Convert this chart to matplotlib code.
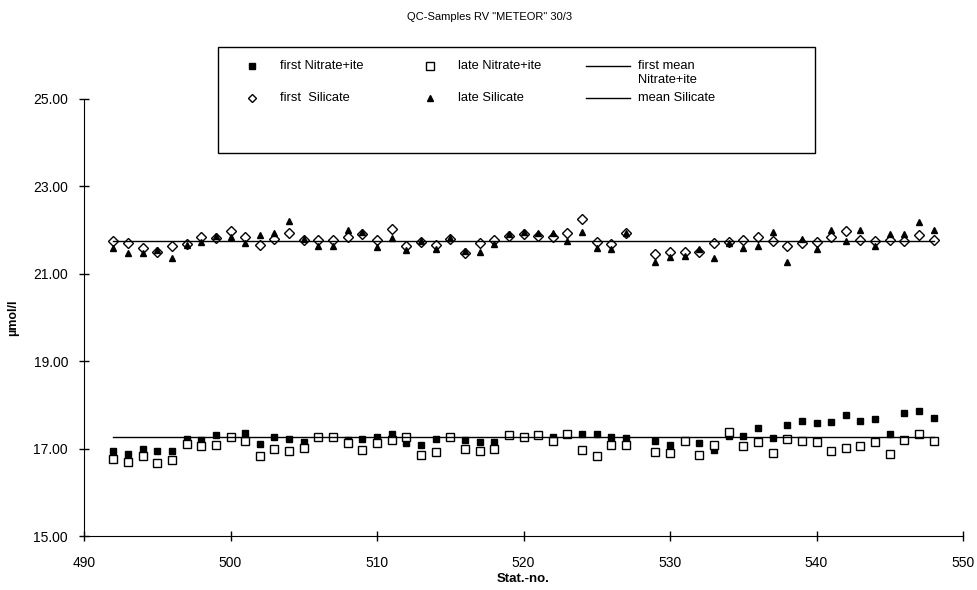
import matplotlib
matplotlib.use("Agg")
import matplotlib.pyplot as plt
from matplotlib.lines import Line2D
from matplotlib.patches import Rectangle

plt.rcParams['font.family'] = ['Liberation Sans', 'DejaVu Sans']

stations = [492, 493, 494, 495, 496, 497, 498, 499, 500, 501, 502, 503, 504, 505, 506, 507, 508, 509,
            510, 511, 512, 513, 514, 515, 516, 517, 518, 519, 520, 521, 522, 523, 524, 525, 526, 527,
            529, 530, 531, 532, 533, 534, 535, 536, 537, 538, 539, 540, 541, 542, 543, 544, 545, 546, 547, 548]

first_nitrate = [16.95, 16.88, 17.00, 16.95, 16.94, 17.23, 17.20, 17.30, 17.27, 17.36, 17.11, 17.27, 17.23, 17.15,
                 17.27, 17.27, 17.20, 17.22, 17.26, 17.34, 17.13, 17.09, 17.23, 17.27, 17.19, 17.14, 17.14, 17.30,
                 17.26, 17.30, 17.26, 17.34, 17.33, 17.34, 17.27, 17.25,
                 17.17, 17.09, 17.18, 17.13, 16.96, 17.28, 17.28, 17.48, 17.25, 17.53, 17.64, 17.58, 17.61, 17.76,
                 17.64, 17.68, 17.34, 17.81, 17.86, 17.71]
late_nitrate = [16.77, 16.69, 16.83, 16.68, 16.75, 17.11, 17.05, 17.08, 17.27, 17.18, 16.83, 16.99, 16.94, 17.01,
                17.27, 17.27, 17.13, 16.96, 17.13, 17.20, 17.26, 16.85, 16.92, 17.26, 17.00, 16.95, 17.00, 17.30,
                17.26, 17.30, 17.17, 17.34, 16.96, 16.84, 17.09, 17.08,
                16.92, 16.89, 17.18, 16.85, 17.09, 17.38, 17.07, 17.14, 16.90, 17.22, 17.18, 17.14, 16.95, 17.02,
                17.07, 17.14, 16.88, 17.19, 17.33, 17.17]
first_silicate = [21.74, 21.70, 21.60, 21.49, 21.63, 21.68, 21.85, 21.83, 21.97, 21.84, 21.66, 21.79, 21.94, 21.77,
                  21.78, 21.78, 21.84, 21.90, 21.77, 22.03, 21.63, 21.72, 21.66, 21.79, 21.47, 21.70, 21.77, 21.86,
                  21.91, 21.87, 21.84, 21.94, 22.26, 21.72, 21.68, 21.94,
                  21.45, 21.49, 21.50, 21.50, 21.70, 21.72, 21.77, 21.84, 21.74, 21.64, 21.70, 21.72, 21.84, 21.98,
                  21.78, 21.75, 21.78, 21.75, 21.88, 21.78]
late_silicate = [21.60, 21.47, 21.47, 21.54, 21.36, 21.66, 21.72, 21.87, 21.84, 21.71, 21.88, 21.94, 22.21, 21.79,
                 21.64, 21.64, 22.00, 21.95, 21.62, 21.82, 21.54, 21.75, 21.57, 21.82, 21.52, 21.51, 21.68, 21.92,
                 21.96, 21.94, 21.94, 21.75, 21.96, 21.60, 21.57, 21.93,
                 21.28, 21.38, 21.40, 21.57, 21.36, 21.71, 21.59, 21.63, 21.96, 21.28, 21.79, 21.57, 22.00, 21.75,
                 22.00, 21.64, 21.91, 21.90, 22.18, 22.00]

mean_nitrate = 17.27
mean_silicate = 21.75

xticks = [490, 500, 510, 520, 530, 540, 550]
yticks = [15, 17, 19, 21, 23, 25]

W, H = 977, 590
fig = plt.figure(figsize=(W / 100, H / 100), dpi=100)
left, right, top, bottom = 84, 963, 99, 536
ax = fig.add_axes([left / W, 1 - bottom / H, (right - left) / W, (bottom - top) / H])

ms = 5
h1, = ax.plot(stations, first_nitrate, 's', color='black', ms=ms, ls='none', label='first Nitrate+ite')
h2, = ax.plot(stations, late_nitrate, 's', mfc='white', mec='black', mew=1, ms=ms + 1, ls='none', label='late Nitrate+ite')
h4, = ax.plot(stations, first_silicate, 'D', mfc='white', mec='black', mew=1, ms=ms, ls='none', label='first  Silicate')
h5, = ax.plot(stations, late_silicate, '^', color='black', ms=ms, ls='none', label='late Silicate')
h3, = ax.plot([stations[0], stations[-1]], [mean_nitrate, mean_nitrate], '-', color='black', lw=1.0,
              label='first mean\nNitrate+ite')
h6, = ax.plot([stations[0], stations[-1]], [mean_silicate, mean_silicate], '-', color='black', lw=1.0,
              label='mean Silicate')

ax.set_xlim(490, 550)
ax.set_ylim(15, 25)
ax.set_xticks(xticks)
ax.set_yticks(yticks)
ax.set_yticklabels([f"{v:.2f}" for v in yticks])
ax.tick_params(direction='inout', length=7, width=1, labelsize=10)
ax.tick_params(axis='y', pad=8)
ax.tick_params(axis='x', pad=11)
ax.spines['top'].set_visible(False)
ax.spines['right'].set_visible(False)
ax.set_xlabel('Stat.-no.', fontsize=9.5, fontweight='bold', labelpad=2)
ax.set_ylabel('µmol/l', fontsize=9, fontweight='bold', labelpad=10)

fig.text(490 / W, 1 - 17 / H, 'QC-Samples RV "METEOR" 30/3', ha='center', va='center', fontsize=8)

# legend drawn in figure pixel coordinates
def fx(x):
    return x / W

def fy(y):
    return 1 - y / H

fig.add_artist(Rectangle((fx(218), fy(153)), fx(815) - fx(218), fy(47) - fy(153),
                         transform=fig.transFigure, fill=False, edgecolor='black', lw=1.0))
row1, row2 = 66, 98
entries = [
    (h1, 252, row1, 280), (h4, 252, row2, 280),
    (h2, 430, row1, 458), (h5, 430, row2, 458),
]
for h, mx, my, tx in entries:
    fig.add_artist(Line2D([fx(mx)], [fy(my)], transform=fig.transFigure, ls='none',
                          marker=h.get_marker(), ms=h.get_markersize() - 0.5,
                          mfc=h.get_markerfacecolor(), mec=h.get_markeredgecolor(),
                          mew=h.get_markeredgewidth()))
    fig.text(fx(tx), fy(my), h.get_label(), ha='left', va='center', fontsize=9.3)
for h, my in [(h3, row1), (h6, row2)]:
    fig.add_artist(Line2D([fx(586), fx(630)], [fy(my), fy(my)], transform=fig.transFigure,
                          color='black', lw=1.0))
    fig.text(fx(638), fy(my - 6), h.get_label(), ha='left', va='top', fontsize=9.3, linespacing=1.25)

fig.savefig('out.png', dpi=100)
